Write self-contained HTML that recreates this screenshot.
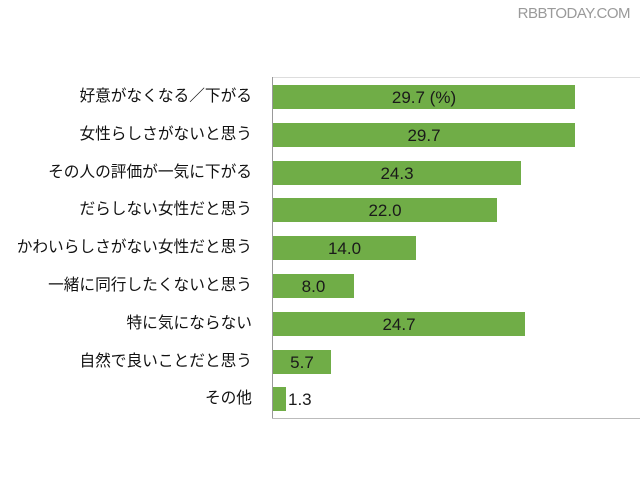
<!DOCTYPE html>
<html><head><meta charset="utf-8"><style>
body{margin:0;width:640px;height:480px;background:#fff;overflow:hidden;position:relative;font-family:"Liberation Sans","Noto Sans CJK JP",sans-serif}
.wm{position:absolute;right:10px;top:5px;font-size:15px;color:#9a9a9a;letter-spacing:-0.5px}
.ax{position:absolute;left:272px;top:77px;width:1px;height:342px;background:#999}
.top{position:absolute;left:272px;top:77px;width:368px;height:1px;background:#ddd}
.bot{position:absolute;left:272px;top:418px;width:368px;height:1px;background:#bbb}
.lab{position:absolute;right:388px;font-size:15.7px;color:#111;white-space:nowrap;height:24px;line-height:24px}
.bar{position:absolute;left:273px;height:24px;background:#70ad47}
.val{position:absolute;font-size:17px;color:#1a1a1a;height:24px;line-height:26px;text-align:center}
</style></head><body>
<div class="wm">RBBTODAY.COM</div>
<div class="top"></div><div class="ax"></div><div class="bot"></div>
<div class="lab" style="top:85px">好意がなくなる／下がる</div>
<div class="bar" style="top:85px;width:302px"></div><div class="val" style="top:85px;left:273px;width:302px">29.7 (%)</div>
<div class="lab" style="top:123px">女性らしさがないと思う</div>
<div class="bar" style="top:123px;width:302px"></div><div class="val" style="top:123px;left:273px;width:302px">29.7</div>
<div class="lab" style="top:161px">その人の評価が一気に下がる</div>
<div class="bar" style="top:161px;width:248px"></div><div class="val" style="top:161px;left:273px;width:248px">24.3</div>
<div class="lab" style="top:198px">だらしない女性だと思う</div>
<div class="bar" style="top:198px;width:224px"></div><div class="val" style="top:198px;left:273px;width:224px">22.0</div>
<div class="lab" style="top:236px">かわいらしさがない女性だと思う</div>
<div class="bar" style="top:236px;width:143px"></div><div class="val" style="top:236px;left:273px;width:143px">14.0</div>
<div class="lab" style="top:274px">一緒に同行したくないと思う</div>
<div class="bar" style="top:274px;width:81px"></div><div class="val" style="top:274px;left:273px;width:81px">8.0</div>
<div class="lab" style="top:312px">特に気にならない</div>
<div class="bar" style="top:312px;width:252px"></div><div class="val" style="top:312px;left:273px;width:252px">24.7</div>
<div class="lab" style="top:350px">自然で良いことだと思う</div>
<div class="bar" style="top:350px;width:58px"></div><div class="val" style="top:350px;left:273px;width:58px">5.7</div>
<div class="lab" style="top:387px">その他</div>
<div class="bar" style="top:387px;width:13px"></div><div class="val" style="top:387px;left:288px;width:30px;text-align:left">1.3</div>
</body></html>
